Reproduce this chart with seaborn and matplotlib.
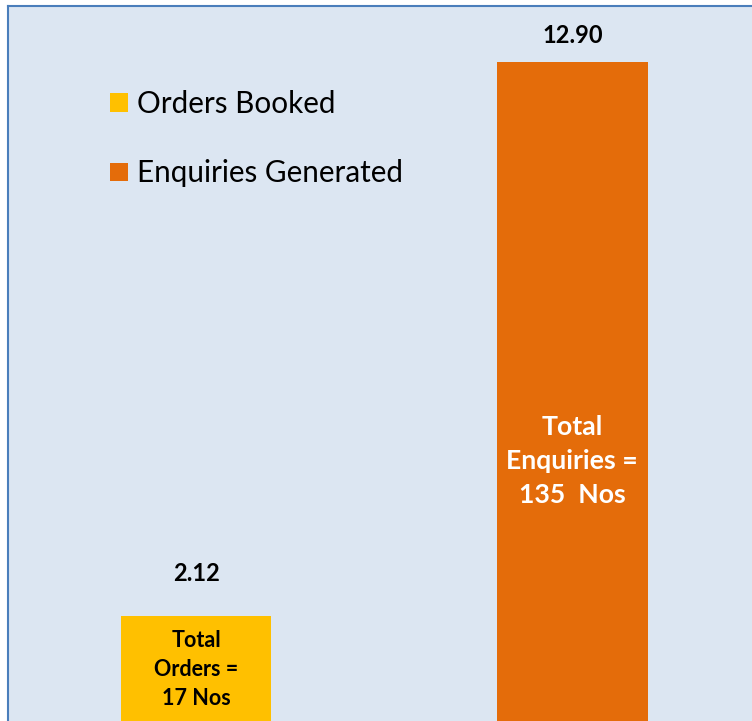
import matplotlib
matplotlib.use("Agg")
import matplotlib.pyplot as plt
import matplotlib.patches as mpatches
import seaborn as sns

# data
categories = ["Orders Booked", "Enquiries Generated"]
values = [2.12, 12.90]
value_labels = ["2.12", "12.90"]
inner_labels = ["Total\nOrders =\n17 Nos", "Total\nEnquiries =\n135  Nos"]

colors = ["#FFC000", "#E46C0A"]
bg = "#DCE6F2"
border = "#4A7EBB"

sns.set_theme(style="white")
plt.rcParams["font.family"] = ["Lato", "DejaVu Sans"]

fig = plt.figure(figsize=(7.52, 7.21), dpi=100)
fig.patch.set_facecolor("white")
# axes run past the right and bottom edge, like the cropped original
ax = fig.add_axes([8 / 752, -4 / 721, 752.5 / 752, 719 / 721])
ax.set_facecolor(bg)

sns.barplot(x=categories, y=values, hue=categories, palette=colors,
            width=0.4, legend=False, ax=ax, saturation=1,
            edgecolor="none", linewidth=0)

ax.set_xlim(-0.5, 1.5)
ax.set_ylim(0, 14)
ax.set_xticks([])
ax.set_yticks([])
ax.set_xlabel("")
ax.set_ylabel("")

for side in ["left", "top"]:
    ax.spines[side].set_color(border)
    ax.spines[side].set_linewidth(1.5)
for side in ["right", "bottom"]:
    ax.spines[side].set_visible(False)

# value labels above the bars
label_pad = [31, 19.5]
for i, v in enumerate(values):
    ax.annotate(value_labels[i], (i, v), xytext=(0, label_pad[i]),
                textcoords="offset points", ha="center", va="center",
                fontsize=17, fontweight="bold", color="black")

# text inside the bars
inner_y = [1.08, 5.15]
inner_size = [15.5, 19.2]
inner_color = ["black", "white"]
inner_spacing = [1.45, 1.5]
for i in range(len(values)):
    ax.text(i, inner_y[i], inner_labels[i], ha="center", va="center",
            fontsize=inner_size[i], fontweight="bold", color=inner_color[i],
            linespacing=inner_spacing[i])

handles = [mpatches.Patch(facecolor=c, edgecolor="none", label=l)
           for c, l in zip(colors, categories)]
ax.legend(handles=handles, loc="upper left",
          bbox_to_anchor=(110 / 752, 1 - 90 / 721), bbox_transform=fig.transFigure,
          frameon=False, fontsize=21.3, handlelength=0.61, handleheight=0.61,
          handletextpad=0.3, labelspacing=1.4, borderpad=0, borderaxespad=0,
          labelcolor="black")

plt.savefig("out.png", dpi=100, facecolor=fig.get_facecolor())
